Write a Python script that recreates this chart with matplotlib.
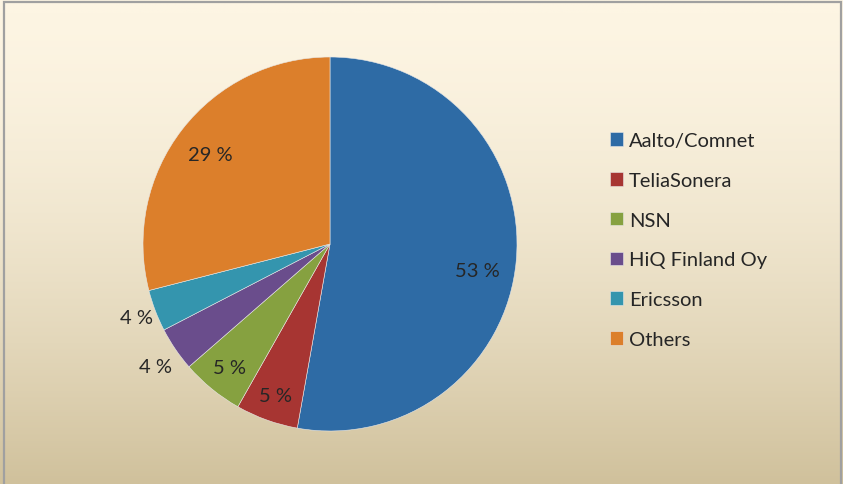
import matplotlib.pyplot as plt
import numpy as np
from matplotlib.colors import LinearSegmentedColormap
from matplotlib.patches import Rectangle

categories = ["Aalto/Comnet", "TeliaSonera", "NSN", "HiQ Finland Oy", "Ericsson", "Others"]
shares = [52.8, 5.4, 5.4, 3.8, 3.6, 29.0]
colors = ["#2E6BA5", "#A73532", "#86A140", "#6A4D8C", "#3495AE", "#DC7F2B"]

# label radius (in pie radii) and small angle shift (deg) per wedge
label_r = [0.80, 0.86, 0.85, 1.14, 1.11, 0.80]
label_dtheta = [-5, 0, 0, 1, 0, 1]

plt.rcParams['font.family'] = ['Lato', 'DejaVu Sans']

fig = plt.figure(figsize=(8.43, 4.85), dpi=100)

# gradient background
bg = fig.add_axes([0, 0, 1, 1])
bg.set_axis_off()
t = np.linspace(0, 1, 256) ** 1.6
grad = t[:, None] * np.ones((1, 4))
cmap = LinearSegmentedColormap.from_list("bg", ["#FDF5E3", "#D0C19C"])
bg.imshow(grad, aspect="auto", cmap=cmap, extent=[0, 1, 0, 1], origin="upper")
bg.set_xlim(0, 1)
bg.set_ylim(0, 1)
bg.add_patch(Rectangle((4 / 843, -0.05), 837 / 843, 1.05 - 3 / 485, fill=False,
                       edgecolor="#A0A0A0", linewidth=1.6))

cx, cy, r = 330, 245, 187
ax = fig.add_axes([(cx - r) / 843, (485 - cy - r) / 485, 2 * r / 843, 2 * r / 485])
wedges, _ = ax.pie(shares, colors=colors, startangle=90, counterclock=False,
                   radius=1, wedgeprops=dict(edgecolor="#E8E8E8", linewidth=0.4))
ax.set_xlim(-1, 1)
ax.set_ylim(-1, 1)
ax.set_aspect("equal")
ax.set_axis_off()

for w, val, rr, dt in zip(wedges, shares, label_r, label_dtheta):
    ang = np.deg2rad((w.theta1 + w.theta2) / 2 + dt)
    ax.text(rr * np.cos(ang), rr * np.sin(ang), f"{val:.0f} %",
            ha="center", va="center", fontsize=14.5, color="#262626")

fig.legend(wedges, categories, loc="center left", bbox_to_anchor=(600 / 843, 0.503),
           frameon=False, fontsize=14.5, labelcolor="#262626", borderpad=0,
           handlelength=0.65, handleheight=0.65, handletextpad=0.3, labelspacing=1.13)

fig.savefig("out.png", dpi=100)
